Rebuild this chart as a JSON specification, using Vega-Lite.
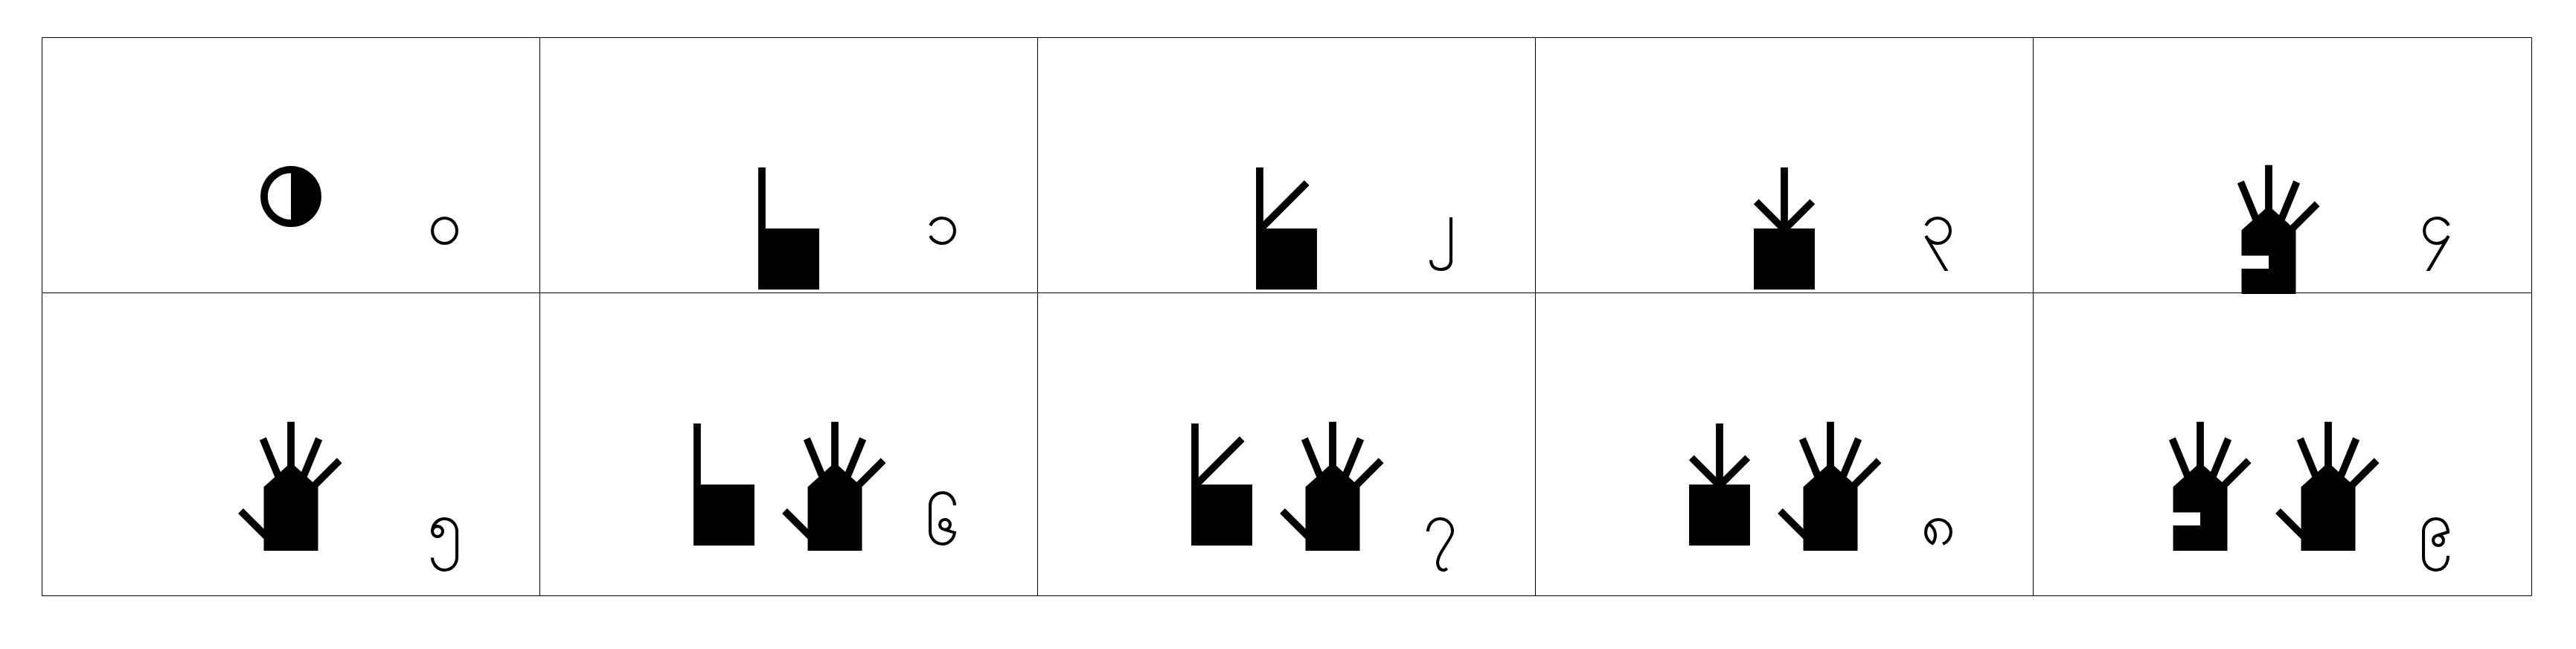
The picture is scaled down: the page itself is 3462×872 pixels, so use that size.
{
  "$schema": "https://vega.github.io/schema/vega-lite/v6.json",
  "padding": {"left": 55, "top": 49, "right": 5, "bottom": 5},
  "spacing": 0,
  "bounds": "flush",
  "background": "white",
  "config": {
    "view": {"stroke": "#000", "strokeWidth": 1},
    "axis": {"labels": false, "ticks": false, "domain": false, "title": null, "grid": true, "gridColor": "#000", "gridOpacity": 1, "gridWidth": 1, "minExtent": 0, "maxExtent": 0},
    "text": {"color": "#000"}
  },
  "datasets": {
    "numbers": [
      {"n": 0, "row": 1, "col": 1, "left": "\ud836\udc76\ud836\ude9b", "right": null, "digit": "၀"},
      {"n": 1, "row": 1, "col": 2, "left": "\ud836\udc00\ud836\ude9c", "right": null, "digit": "၁"},
      {"n": 2, "row": 1, "col": 3, "left": "\ud836\udc0e\ud836\ude9c", "right": null, "digit": "၂"},
      {"n": 3, "row": 1, "col": 4, "left": "\ud836\udc86\ud836\ude9c", "right": null, "digit": "၃"},
      {"n": 4, "row": 1, "col": 5, "left": "\ud836\udc44\ud836\ude9c", "right": null, "digit": "၄"},
      {"n": 5, "row": 2, "col": 1, "left": "\ud836\udc4c\ud836\ude9c", "right": null, "digit": "၅"},
      {"n": 6, "row": 2, "col": 2, "left": "\ud836\udc00\ud836\ude9c", "right": "\ud836\udc4c\ud836\ude9c", "digit": "၆"},
      {"n": 7, "row": 2, "col": 3, "left": "\ud836\udc0e\ud836\ude9c", "right": "\ud836\udc4c\ud836\ude9c", "digit": "၇"},
      {"n": 8, "row": 2, "col": 4, "left": "\ud836\udc86\ud836\ude9c", "right": "\ud836\udc4c\ud836\ude9c", "digit": "၈"},
      {"n": 9, "row": 2, "col": 5, "left": "\ud836\udc44\ud836\ude9c", "right": "\ud836\udc4c\ud836\ude9c", "digit": "၉"}
    ]
  },
  "vconcat": [
    {
      "width": 3346,
      "height": 343,
      "data": {"name": "numbers"},
      "transform": [{"filter": "datum.row == 1"}],
      "encoding": {
        "x": {"field": "col", "type": "ordinal", "scale": {"type": "band", "paddingInner": 0, "paddingOuter": 0}, "axis": {"bandPosition": 0}},
        "y": {"field": "row", "type": "ordinal", "axis": null}
      },
      "layer": [
        {
          "transform": [{"filter": "datum.n >= 1 && datum.n <= 3"}],
          "mark": {"type": "text", "fontSize": 234, "baseline": "alphabetic", "dy": 187},
          "encoding": {"text": {"field": "left"}}
        },
        {
          "transform": [{"filter": "datum.n == 4"}],
          "mark": {"type": "text", "fontSize": 234, "baseline": "alphabetic", "dx": -18, "dy": 173},
          "encoding": {"text": {"field": "left"}}
        },
        {
          "transform": [{"filter": "datum.n == 0"}],
          "mark": {"type": "text", "fontSize": 234, "baseline": "alphabetic", "dy": 103},
          "encoding": {"text": {"field": "left"}}
        },
        {
          "mark": {"type": "text", "fontSize": 82, "baseline": "alphabetic", "dx": 207, "dy": 106},
          "encoding": {"text": {"field": "digit"}}
        }
      ]
    },
    {
      "width": 3346,
      "height": 407,
      "data": {"name": "numbers"},
      "transform": [{"filter": "datum.row == 2"}],
      "encoding": {
        "x": {"field": "col", "type": "ordinal", "scale": {"type": "band", "paddingInner": 0, "paddingOuter": 0}, "axis": {"bandPosition": 0}},
        "y": {"field": "row", "type": "ordinal", "axis": null}
      },
      "layer": [
        {
          "transform": [{"filter": "datum.n == 5"}],
          "mark": {"type": "text", "fontSize": 234, "baseline": "alphabetic", "dy": 143},
          "encoding": {"text": {"field": "left"}}
        },
        {
          "transform": [{"filter": "datum.n >= 6 && datum.n <= 8"}],
          "mark": {"type": "text", "fontSize": 234, "baseline": "alphabetic", "dx": -87, "dy": 156},
          "encoding": {"text": {"field": "left"}}
        },
        {
          "transform": [{"filter": "datum.n == 9"}],
          "mark": {"type": "text", "fontSize": 234, "baseline": "alphabetic", "dx": -110, "dy": 143},
          "encoding": {"text": {"field": "left"}}
        },
        {
          "transform": [{"filter": "datum.right != null"}],
          "mark": {"type": "text", "fontSize": 234, "baseline": "alphabetic", "dx": 62, "dy": 143},
          "encoding": {"text": {"field": "right"}}
        },
        {
          "mark": {"type": "text", "fontSize": 82, "baseline": "alphabetic", "dx": 207, "dy": 135},
          "encoding": {"text": {"field": "digit"}}
        }
      ]
    }
  ]
}
